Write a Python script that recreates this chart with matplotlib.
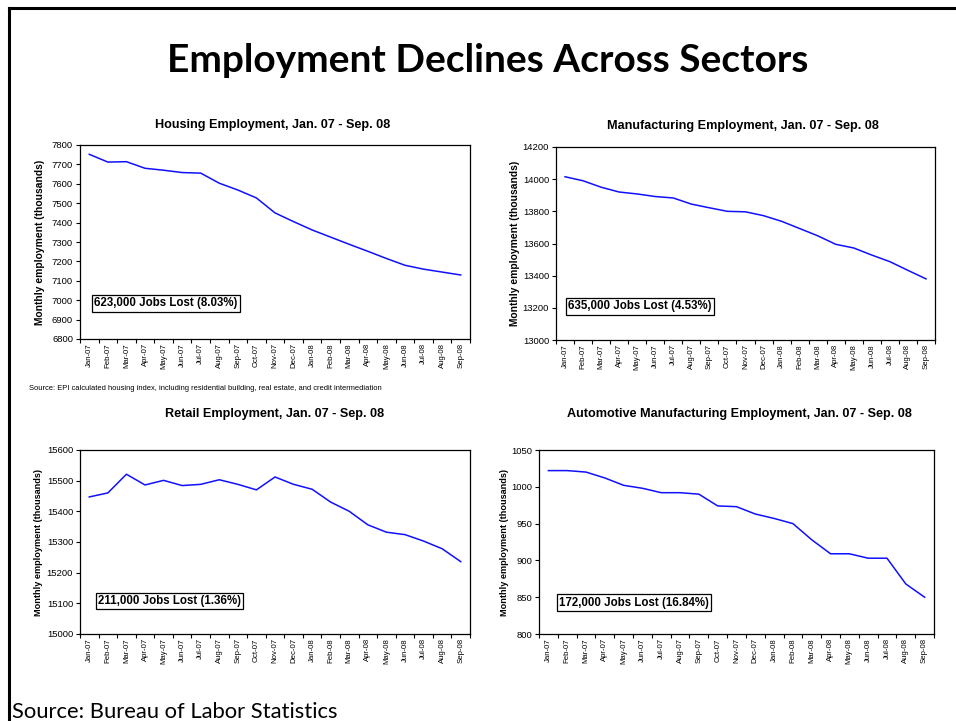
import matplotlib
matplotlib.use("Agg")
import matplotlib.pyplot as plt
import numpy as np

# DATA
months = ["Jan-07", "Feb-07", "Mar-07", "Apr-07", "May-07", "Jun-07", "Jul-07",
          "Aug-07", "Sep-07", "Oct-07", "Nov-07", "Dec-07", "Jan-08", "Feb-08",
          "Mar-08", "Apr-08", "May-08", "Jun-08", "Jul-08", "Aug-08", "Sep-08"]

housing = [7752, 7712, 7714, 7680, 7670, 7658, 7655, 7603, 7568, 7527, 7450,
           7405, 7362, 7325, 7288, 7252, 7215, 7180, 7160, 7145, 7130]
manufacturing = [14015, 13990, 13950, 13920, 13908, 13892, 13883, 13845, 13822,
                 13800, 13797, 13773, 13738, 13693, 13648, 13595, 13572, 13528,
                 13487, 13433, 13380]
retail = [15447, 15460, 15521, 15486, 15501, 15484, 15488, 15503, 15488, 15470,
          15512, 15488, 15472, 15430, 15400, 15356, 15332, 15324, 15303, 15278,
          15236]
auto = [1022, 1022, 1020, 1012, 1002, 998, 992, 992, 990, 974, 973, 963, 957,
        950, 928, 909, 909, 903, 903, 868, 850]

titles = ["Housing Employment, Jan. 07 - Sep. 08",
          "Manufacturing Employment, Jan. 07 - Sep. 08",
          "Retail Employment, Jan. 07 - Sep. 08",
          "Automotive Manufacturing Employment, Jan. 07 - Sep. 08"]
boxes = ["623,000 Jobs Lost (8.03%)", "635,000 Jobs Lost (4.53%)",
         "211,000 Jobs Lost (1.36%)", "172,000 Jobs Lost (16.84%)"]
yticks = [np.arange(6800, 7801, 100), np.arange(13000, 14201, 200),
          np.arange(15000, 15601, 100), np.arange(800, 1051, 50)]

W, H = 956, 721

def fx(px):
    return px / W

def fy(py):
    return 1 - py / H

fig = plt.figure(figsize=(W / 100, H / 100), dpi=100)
plt.rcParams['font.family'] = ['Liberation Sans', 'DejaVu Sans']

# slide frame (top and left edges)
fig.add_artist(plt.Line2D([fx(9), 1], [fy(8), fy(8)], color='black', lw=2.2))
fig.add_artist(plt.Line2D([fx(9), fx(9)], [fy(8), 0], color='black', lw=2.2))

fig.text(fx(488), fy(72), "Employment Declines Across Sectors", ha='center',
         va='baseline', fontsize=28, fontweight='bold', family=['Lato', 'DejaVu Sans'])
fig.text(fx(12), fy(718), "Source: Bureau of Labor Statistics", ha='left',
         va='baseline', fontsize=15.8, family=['Lato', 'DejaVu Sans'])

# axes boxes in pixels: x0, y0, x1, y1
rects = [(80, 145, 470, 339), (556, 147, 935, 340),
         (80, 450, 470, 634), (539, 450, 934, 634)]
title_pos = [(273, 125), (743, 126), (275, 414), (739, 414)]
box_pos = [(0.028, 0.183), (0.024, 0.174), (0.038, 0.18), (0.043, 0.171)]
ylab_off = [35, 36, 37, 30]
ylab_size = [7.4, 7.4, 6.6, 6.6]
series = [housing, manufacturing, retail, auto]

x = np.arange(len(months))
for i in range(4):
    x0, y0, x1, y1 = rects[i]
    ax = fig.add_axes([fx(x0), fy(y1), (x1 - x0) / W, (y1 - y0) / H])
    ax.plot(x, series[i], color='#1010ff', lw=1.1)
    ax.set_xlim(-0.5, len(months) - 0.5)
    ax.set_ylim(yticks[i][0], yticks[i][-1])
    ax.set_yticks(yticks[i])
    ax.tick_params(axis='y', labelsize=6.8, length=3, width=0.8, pad=2)
    ax.set_xticks(x)
    ax.set_xticklabels(months, rotation=90, fontsize=5.6)
    ax.set_xticks(np.arange(-0.5, len(months)), minor=True)
    ax.tick_params(axis='x', which='major', length=0, pad=3)
    ax.tick_params(axis='x', which='minor', length=3, width=0.8)
    for s in ax.spines.values():
        s.set_linewidth(0.9)
    ax.set_ylabel("Monthly employment (thousands)", fontsize=ylab_size[i],
                  fontweight='bold')
    ax.yaxis.set_label_coords(-ylab_off[i] / (x1 - x0), 0.5)
    tx, ty = title_pos[i]
    fig.text(fx(tx), fy(ty), titles[i], ha='center', va='center',
             fontsize=9.1, fontweight='bold')
    bx, by = box_pos[i]
    ax.text(bx + 3 / (x1 - x0), by, boxes[i], transform=ax.transAxes,
            ha='left', va='center', fontsize=8.3, fontweight='bold',
            bbox=dict(boxstyle='square,pad=0.2', fc='white', ec='black', lw=0.9))

fig.text(fx(29), fy(388), "Source: EPI calculated housing index, including residential "
         "building, real estate, and credit intermediation", ha='left', va='center',
         fontsize=5.4)

fig.savefig("out.png", dpi=100)
